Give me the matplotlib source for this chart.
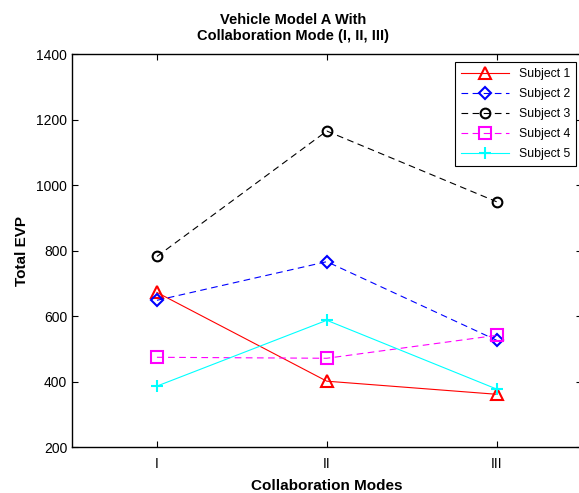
import numpy as np
import matplotlib.pyplot as plt

plt.rcParams['font.family'] = ['Liberation Sans', 'DejaVu Sans']

modes = ['I', 'II', 'III']
subject1 = [672, 401, 361]
subject2 = [648, 766, 526]
subject3 = [782, 1165, 949]
subject4 = [474, 471, 541]
subject5 = [386, 587, 377]

x = np.arange(1, 4)

fig = plt.figure(figsize=(5.79, 4.93), dpi=100)
# axes run a bit past the right edge of the picture, like the original
ax = fig.add_axes([0.1244, 0.0933, 0.880, 0.797])

ax.plot(x, subject1, '-', color='red', lw=0.8, marker='^', ms=9, mfc='none', mew=1.5, label='Subject 1')
ax.plot(x, subject2, '--', color='blue', lw=0.8, marker='D', ms=6.5, mfc='none', mew=1.5, label='Subject 2', dashes=(6, 4))
ax.plot(x, subject3, '--', color='black', lw=0.8, marker='o', ms=7, mfc='none', mew=1.5, label='Subject 3', dashes=(6, 4))
ax.plot(x, subject4, '--', color='magenta', lw=0.8, marker='s', ms=8, mfc='none', mew=1.5, label='Subject 4', dashes=(6, 4))
ax.plot(x, subject5, '-', color='cyan', lw=0.8, marker='+', ms=9, mew=1.5, label='Subject 5')

ax.set_xlim(0.5, 3.5)
ax.set_ylim(200, 1400)
ax.set_xticks(x)
ax.set_xticklabels(modes)
ax.set_yticks(np.arange(200, 1401, 200))
ax.tick_params(direction='in', labelsize=10, length=4, top=True, right=True)
ax.tick_params(axis='x', pad=7)
for s in ax.spines.values():
    s.set_linewidth(1.0)

ax.set_xlabel('Collaboration Modes', fontsize=11, fontweight='bold', labelpad=6)
ax.set_ylabel('Total EVP', fontsize=11, fontweight='bold', labelpad=5)
ax.set_title('Vehicle Model A With\nCollaboration Mode (I, II, III)', fontsize=10.5,
             fontweight='bold', x=0.434, pad=10)

leg = ax.legend(loc='upper right', bbox_to_anchor=(576 / 579, (493 - 62) / 493),
                bbox_transform=fig.transFigure, borderaxespad=0, fontsize=8.8,
                fancybox=False, framealpha=1, edgecolor='black',
                handlelength=3.9, labelspacing=0.66, borderpad=0.5)
leg.get_frame().set_linewidth(0.8)

fig.savefig('out.png', dpi=100)
